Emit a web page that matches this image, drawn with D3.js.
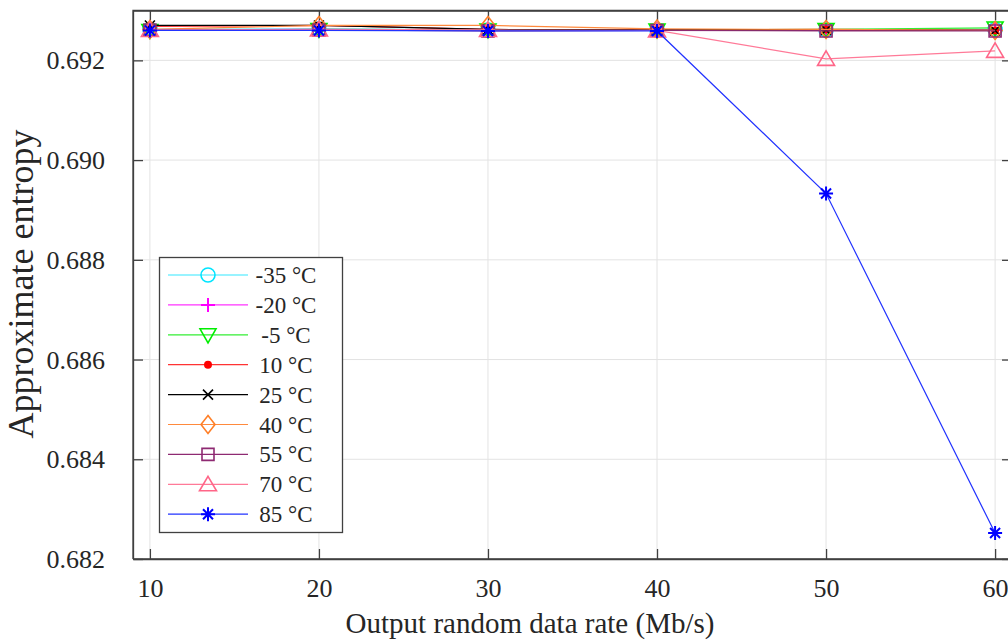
<!DOCTYPE html>
<meta charset="utf-8">
<html>
<style>
  body { margin: 0; background: #fff; }
  text { font-family: "Liberation Serif", "Times New Roman", serif; fill: #262626; }
  .grid line { stroke: #e3e3e3; stroke-width: 1; }
  .frame { stroke: #404040; stroke-width: 1.3; fill: none; }
</style>
<body>
<svg width="1008" height="643"></svg>
<script src="https://d3js.org/d3.v7.min.js"></script>
<script>

var rates = [10, 20, 30, 40, 50, 60];
var temps = ["-35 °C", "-20 °C", "-5 °C", "10 °C", "25 °C", "40 °C", "55 °C", "70 °C", "85 °C"];
var xTicks = [10, 20, 30, 40, 50, 60];
var yTicks = [0.682, 0.684, 0.686, 0.688, 0.690, 0.692];

var tM35 = [0.69262, 0.69263, 0.69261, 0.69261, 0.69261, 0.69262];
var tM20 = [0.69261, 0.69262, 0.69260, 0.69261, 0.69260, 0.69261];
var tM5  = [0.69260, 0.69262, 0.69261, 0.69261, 0.69262, 0.69265];
var t10  = [0.69268, 0.69270, 0.69262, 0.69261, 0.69262, 0.69260];
var t25  = [0.69270, 0.69270, 0.69262, 0.69261, 0.69261, 0.69260];
var t40  = [0.69262, 0.69270, 0.69270, 0.69263, 0.69262, 0.69260];
var t55  = [0.69261, 0.69261, 0.69259, 0.69260, 0.69259, 0.69259];
var t70  = [0.69261, 0.69262, 0.69261, 0.69260, 0.69203, 0.69219];
var t85  = [0.69260, 0.69260, 0.69259, 0.69259, 0.68933, 0.68252];

var seriesValues = [tM35, tM20, tM5, t10, t25, t40, t55, t70, t85];
var markerColors = ["#00e5ff", "#ff00ff", "#00ee00", "#ff0000", "#000000", "#ff7f27", "#8e2a72", "#ff6688", "#0000ff"];
var lineColors = ["#33e8ff", "#ff33ff", "#33ee33", "#ff3333", "#000000", "#ff8a3d", "#8e2a72", "#ff7a98", "#2233ff"];
var markerTypes = ["circle", "plus", "tridown", "dot", "cross", "diamond", "square", "triup", "star"];

function draw() {
  var svg = d3.select("svg");
  var mLeft = 133, mTop = 10.5, mRight = 1012, mBottom = 559;

  var x = d3.scaleLinear().domain([9, 61]).range([mLeft, mRight]);
  var y = d3.scaleLinear().domain([0.682, 0.693]).range([mBottom, mTop]);

  // grid
  var grid = svg.append("g").attr("class", "grid");
  grid.selectAll(".gx").data(xTicks).enter().append("line")
      .attr("x1", function(d) { return x(d); }).attr("x2", function(d) { return x(d); })
      .attr("y1", mTop).attr("y2", mBottom);
  grid.selectAll(".gy").data(yTicks).enter().append("line")
      .attr("x1", mLeft).attr("x2", mRight)
      .attr("y1", function(d) { return y(d); }).attr("y2", function(d) { return y(d); });

  // axes, ticks pointing inward
  var axB = svg.append("g").attr("transform", "translate(0," + mBottom + ")")
      .call(d3.axisBottom(x).tickValues(xTicks).tickSizeInner(-10).tickSizeOuter(0).tickFormat(d3.format("d")));
  var axT = svg.append("g").attr("transform", "translate(0," + mTop + ")")
      .call(d3.axisTop(x).tickValues(xTicks).tickSizeInner(-10).tickSizeOuter(0).tickFormat(""));
  var axL = svg.append("g").attr("transform", "translate(" + mLeft + ",0)")
      .call(d3.axisLeft(y).tickValues(yTicks).tickSizeInner(-10).tickSizeOuter(0).tickPadding(28).tickFormat(d3.format(".3f")));
  var axR = svg.append("g").attr("transform", "translate(" + mRight + ",0)")
      .call(d3.axisRight(y).tickValues(yTicks).tickSizeInner(-10).tickSizeOuter(0).tickFormat(""));

  [axB, axT, axL, axR].forEach(function(a) {
    a.select(".domain").attr("stroke", "#404040").attr("stroke-width", 1.3);
    a.selectAll(".tick line").attr("stroke", "#404040").attr("stroke-width", 1.3);
    a.selectAll("text").attr("font-family", "Liberation Serif").attr("font-size", 26).attr("fill", "#262626");
  });
  axB.selectAll("text").attr("y", 38).attr("dy", null);
  axL.selectAll("text").attr("dy", "0.33em");

  function markerPath(type) {
    switch (type) {
      case "circle": return d3.arc()({innerRadius: 0, outerRadius: 7, startAngle: 0, endAngle: 2 * Math.PI});
      case "plus": return "M-7,0H7M0,-7V7";
      case "tridown": return "M-8,-6L8,-6L0,8Z";
      case "dot": return d3.arc()({innerRadius: 0, outerRadius: 4, startAngle: 0, endAngle: 2 * Math.PI});
      case "cross": return "M-5,-5L5,5M-5,5L5,-5";
      case "diamond": return "M0,-9L7,0L0,9L-7,0Z";
      case "square": return "M-6,-6H6V6H-6Z";
      case "triup": return "M0,-8L8.5,6.5L-8.5,6.5Z";
      case "star": return "M-7,0H7M0,-7V7M-5,-5L5,5M-5,5L5,-5";
    }
  }
  function drawMarker(g, type, color, mx, my) {
    var p = g.append("path").attr("d", markerPath(type))
        .attr("transform", "translate(" + mx + "," + my + ")")
        .attr("stroke", color).attr("stroke-width", type === "star" || type === "plus" ? 2 : 1.6);
    if (type === "dot") p.attr("fill", color).attr("stroke", "none");
    else p.attr("fill", "none");
  }

  var line = d3.line()
      .x(function(d, i) { return x(rates[i]); })
      .y(function(d) { return y(d); });

  var plot = svg.append("g");
  seriesValues.forEach(function(vals, k) {
    var g = plot.append("g");
    g.append("path").datum(vals).attr("d", line)
        .attr("fill", "none").attr("stroke", lineColors[k]).attr("stroke-width", 1.2);
    vals.forEach(function(v, i) {
      drawMarker(g, markerTypes[k], markerColors[k], x(rates[i]), y(v));
    });
  });

  // box edges on top of the data
  svg.append("path").attr("class", "frame")
      .attr("d", "M" + mLeft + "," + mBottom + "V" + mTop + "H" + mRight + "M" + mLeft + "," + mBottom + "H" + mRight);

  // axis titles
  svg.append("text").attr("x", 530).attr("y", 633).attr("text-anchor", "middle")
      .attr("font-size", 29).text("Output random data rate (Mb/s)");
  svg.append("text").attr("transform", "translate(33,284) rotate(-90)").attr("text-anchor", "middle")
      .attr("font-size", 36).text("Approximate entropy");

  // legend
  var lg = svg.append("g");
  lg.append("rect").attr("x", 159.5).attr("y", 257.5).attr("width", 183).attr("height", 275)
      .attr("fill", "#fff").attr("stroke", "#404040").attr("stroke-width", 1.3);
  temps.forEach(function(t, k) {
    var ly = 275 + k * 29.9;
    lg.append("line").attr("x1", 168).attr("x2", 248).attr("y1", ly).attr("y2", ly)
        .attr("stroke", lineColors[k]).attr("stroke-width", 1.2);
    drawMarker(lg, markerTypes[k], markerColors[k], 208, ly);
    lg.append("text").attr("x", 286).attr("y", ly).attr("dy", "0.35em").attr("text-anchor", "middle")
        .attr("font-size", 23).attr("fill", "#000").text(t);
  });
}

draw();

</script>
</body>
</html>
